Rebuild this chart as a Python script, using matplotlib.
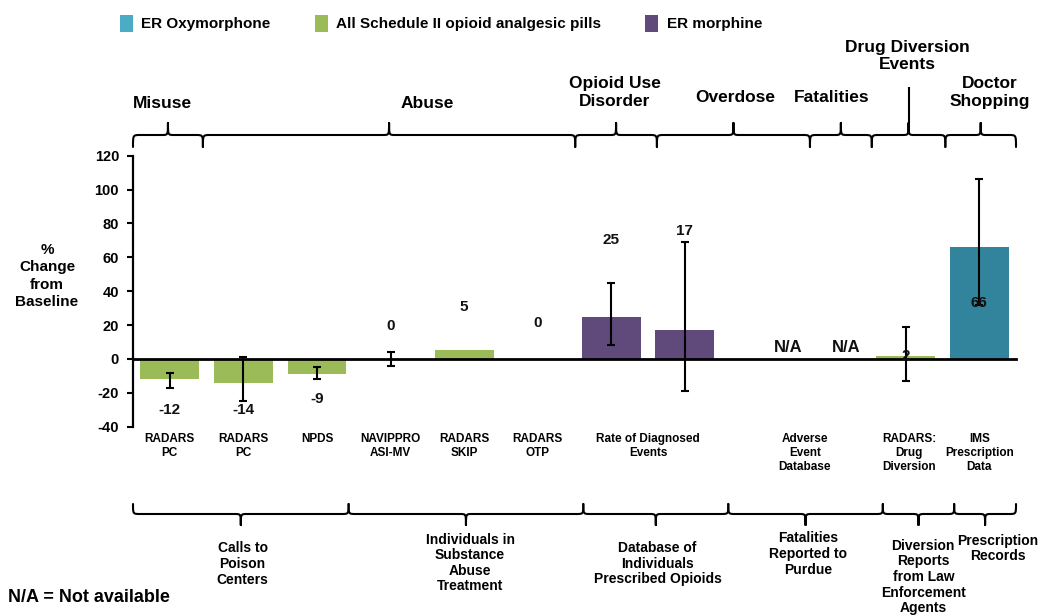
import numpy as np
import matplotlib
matplotlib.use('Agg')
import matplotlib.pyplot as plt
from matplotlib.path import Path
from matplotlib.patches import PathPatch, Patch

W, H = 1044, 615
FONT = ['Liberation Sans', 'DejaVu Sans']

# one slot per data source, left to right
slot_values = [-12, -14, -9, 0, 5, 0, 25, 17, np.nan, np.nan, 2, 66]
slot_series = ['pills', 'pills', 'pills', None, 'pills', None,
               'morph', 'morph', None, None, 'pills', 'oxy']
err_low = [-17, -25, -12, -4, np.nan, np.nan, 8, -19, np.nan, np.nan, -13, 32]
err_high = [-8, 1, -5, 4, np.nan, np.nan, 45, 69, np.nan, np.nan, 19, 106]
value_text = ['-12', '-14', '-9', '0', '5', '0', '25', '17', 'N/A', 'N/A', '2', '66']

source_labels = ['RADARS\nPC', 'RADARS\nPC', 'NPDS', 'NAVIPPRO\nASI-MV', 'RADARS\nSKIP',
                 'RADARS\nOTP', 'Rate of Diagnosed\nEvents', 'Adverse\nEvent\nDatabase',
                 'RADARS:\nDrug\nDiversion', 'IMS\nPrescription\nData']

outcome_labels = ['Misuse', 'Abuse', 'Opioid Use\nDisorder', 'Overdose', 'Fatalities',
                  'Drug Diversion\nEvents', 'Doctor\nShopping']
data_type_labels = ['Calls to\nPoison\nCenters', 'Individuals in\nSubstance\nAbuse\nTreatment',
                    'Database of\nIndividuals\nPrescribed Opioids', 'Fatalities\nReported to\nPurdue',
                    'Diversion\nReports\nfrom Law\nEnforcement\nAgents', 'Prescription\nRecords']

SERIES = {
    'oxy': 'ER Oxymorphone',
    'pills': 'All Schedule II opioid analgesic pills',
    'morph': 'ER morphine',
}
BAR_COLORS = {'oxy': '#31849B', 'pills': '#9BBB59', 'morph': '#604A7B'}
LEGEND_COLORS = {'oxy': '#4BACC6', 'pills': '#9BBB59', 'morph': '#604A7B'}

# layout (positions in slot units / pixels)
value_label_x = [0, 1, 2, 3, 4, 5, 6, 7, 8.41, 9.19, 10, 11]
value_label_y = [-30.4, -30.4, -23.9, 19.2, 30.4, 21.5, 70, 75.8, 6.8, 6.8, 1.5, 33.3]
source_label_x = [0, 1, 2, 3, 4, 5, 6.5, 8.63, 10.05, 11]
top_edges = [-0.5, 0.45, 5.51, 6.62, 8.70, 9.54, 10.54, 11.5]
top_label_x = [-0.1, 3.5, 6.05, 7.68, 9.0, 10.03, 11.15]
top_label_y = [103, 103, 92.5, 98, 98, 56, 92.5]
bottom_edges = [-0.5, 2.43, 5.62, 7.59, 9.69, 10.66, 11.5]
bottom_label_x = [0.99, 4.08, 6.63, 8.67, 10.24, 11.25]
bottom_label_y = [564, 563, 563.5, 554, 577, 548.5]


def brace(ov, x0, x1, y_end, y_mid, y_tip, r=7, rt=6, lw=1.5):
    xt = (x0 + x1) / 2
    verts = [(x0, y_end), (x0, y_mid), (x0, y_mid), (x0 + r, y_mid),
             (xt - rt, y_mid), (xt, y_mid), (xt, y_mid), (xt, y_tip),
             (xt, y_mid), (xt, y_mid), (xt + rt, y_mid),
             (x1 - r, y_mid), (x1, y_mid), (x1, y_mid), (x1, y_end)]
    C, L = Path.CURVE4, Path.LINETO
    codes = [Path.MOVETO, C, C, C, L, C, C, C, C, C, C, L, C, C, C]
    ov.add_patch(PathPatch(Path(verts, codes), facecolor='none', edgecolor='black',
                           linewidth=lw, capstyle='round', joinstyle='round'))
    return xt


plt.rcParams['font.family'] = FONT
plt.rcParams['font.weight'] = 'bold'
plt.rcParams['axes.unicode_minus'] = False

fig = plt.figure(figsize=(W / 100, H / 100), dpi=100)
ax = fig.add_axes([133 / W, 1 - 426.7 / H, 883 / W, 271 / H])
ov = fig.add_axes([0, 0, 1, 1])
ov.set_xlim(0, W)
ov.set_ylim(H, 0)
ov.axis('off')
ov.patch.set_alpha(0)

x = np.arange(len(slot_values))
for i, (v, s) in enumerate(zip(slot_values, slot_series)):
    if s is None:
        continue
    ax.bar(x[i], v, width=0.8, color=BAR_COLORS[s], zorder=2)

vals = np.nan_to_num(np.array(slot_values, dtype=float))
lo = np.array(err_low, dtype=float)
hi = np.array(err_high, dtype=float)
has_err = ~np.isnan(lo)
ax.errorbar(x[has_err], vals[has_err],
            yerr=[vals[has_err] - lo[has_err], hi[has_err] - vals[has_err]],
            fmt='none', ecolor='black', elinewidth=1.5, capsize=2.6, capthick=1.5, zorder=3)

for lx, ly, t in zip(value_label_x, value_label_y, value_text):
    fs = 12 if t == 'N/A' else 11
    ax.text(lx, ly, t, ha='center', va='center', fontsize=fs, fontweight='bold',
            color='#111111', zorder=4)

ax.set_xlim(-0.5, 11.5)
ax.set_ylim(-40, 120)
ax.set_yticks(np.arange(-40, 121, 20))
ax.tick_params(axis='y', length=4, width=1.5, pad=6, labelsize=10.5)
for lab in ax.get_yticklabels():
    lab.set_fontweight('bold')
ax.set_xticks([])
ax.spines['top'].set_visible(False)
ax.spines['right'].set_visible(False)
ax.spines['bottom'].set_position(('data', 0))
ax.spines['bottom'].set_linewidth(2)
ax.spines['left'].set_linewidth(1.6)
ax.patch.set_alpha(0)

for sx, lab in zip(source_label_x, source_labels):
    ax.annotate(lab, xy=(sx, -40), xytext=(0, -4.5), textcoords='offset points',
                ha='center', va='top', fontsize=8.5, fontweight='bold', linespacing=1.25)

fig.text(47 / W, 1 - 276 / H, '%\nChange\nfrom\nBaseline', ha='center', va='center',
         fontsize=11, fontweight='bold', linespacing=1.32)


def px(v):
    return ax.transData.transform((v, 0))[0]


# outcome braces above the plot
tips = []
for a, b in zip(top_edges[:-1], top_edges[1:]):
    tips.append(brace(ov, px(a), px(b), 147, 135, 123))
ov.plot([tips[5], tips[5]], [123, 87], color='black', lw=1.5, solid_capstyle='butt')
for lx, ly, t in zip(top_label_x, top_label_y, outcome_labels):
    ov.text(px(lx), ly, t, ha='center', va='center', fontsize=12.5, fontweight='bold',
            linespacing=1.2)

# data-type braces below the plot
for a, b in zip(bottom_edges[:-1], bottom_edges[1:]):
    brace(ov, px(a), px(b), 504, 514, 525)
for lx, ly, t in zip(bottom_label_x, bottom_label_y, data_type_labels):
    ov.text(px(lx), ly, t, ha='center', va='center', fontsize=10, fontweight='bold',
            linespacing=1.15)

handles = [Patch(facecolor=LEGEND_COLORS[k], edgecolor='none', label=SERIES[k])
           for k in ['oxy', 'pills', 'morph']]
fig.legend(handles=handles, loc='upper left', bbox_to_anchor=(112 / W, 1 - 7 / H),
           ncol=3, frameon=False, handlelength=0.85, handleheight=1.35,
           handletextpad=0.55, columnspacing=2.9, borderpad=0, prop={'weight': 'bold', 'size': 11})

fig.text(8 / W, 1 - 598 / H, 'N/A = Not available', ha='left', va='center',
         fontsize=13, fontweight='bold')

fig.savefig('out.png', dpi=100)
